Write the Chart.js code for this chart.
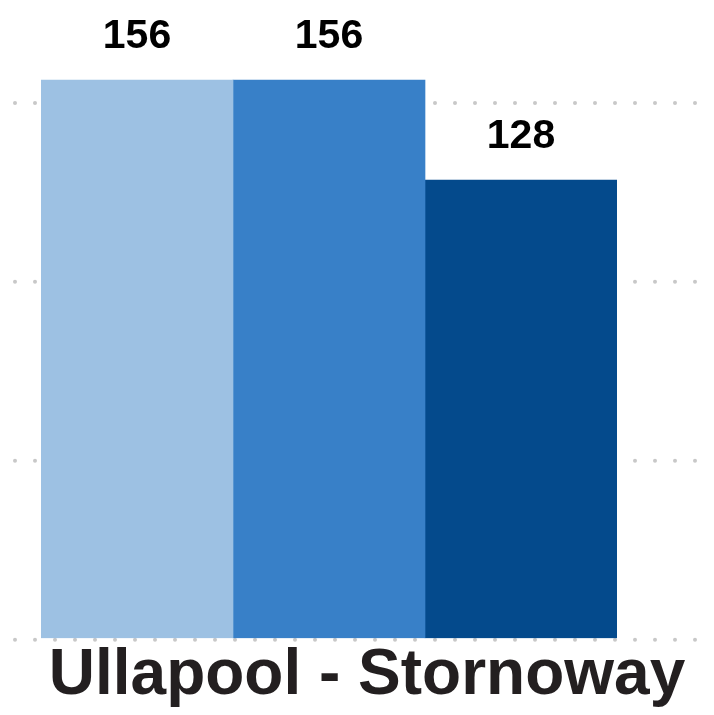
<!DOCTYPE html>
<html>
<head>
<meta charset="utf-8">
<script src="https://cdn.jsdelivr.net/npm/chart.js@4/dist/chart.umd.min.js"></script>
<style>
    html, body { margin: 0; padding: 0; background: #fff; }
    #wrap { width: 714px; height: 715px; }
</style>
</head>
<body>
<div id="wrap"><canvas id="routeChart"></canvas></div>
<script>
// Chart data
const categories = ['Ullapool - Stornoway'];
const seriesNames = ['Series 1', 'Series 2', 'Series 3'];
const seriesValues = [[156], [156], [128]];
const seriesColors = ['#9dc1e3', '#3880c8', '#044a8c'];
const gridValues = [0, 50, 100, 150];

// Dotted horizontal guide lines, placed with the y scale
const dotGrid = {
    id: 'dotGrid',
    beforeDatasetsDraw(chart) {
        const ctx = chart.ctx;
        const yScale = chart.scales.y;
        ctx.save();
        ctx.fillStyle = '#c8c8c8';
        gridValues.forEach(v => {
            const y = yScale.getPixelForValue(v) + 1.5;
            for (let x = 15; x <= chart.width; x += 20) {
                ctx.beginPath();
                ctx.arc(x, y, 2, 0, Math.PI * 2);
                ctx.fill();
            }
        });
        ctx.restore();
    }
};

// Value labels above each bar
const valueLabels = {
    id: 'valueLabels',
    afterDatasetsDraw(chart) {
        const ctx = chart.ctx;
        ctx.save();
        ctx.font = 'bold 41px "Liberation Sans", Arial, sans-serif';
        ctx.fillStyle = '#000';
        ctx.textAlign = 'center';
        ctx.textBaseline = 'alphabetic';
        chart.data.datasets.forEach((ds, i) => {
            chart.getDatasetMeta(i).data.forEach((bar, j) => {
                ctx.fillText(String(ds.data[j]), bar.x, bar.y - 32);
            });
        });
        ctx.restore();
    }
};

const ctx = document.getElementById('routeChart').getContext('2d');
new Chart(ctx, {
    type: 'bar',
    data: {
        labels: categories,
        datasets: seriesValues.map((vals, i) => ({
            label: seriesNames[i],
            data: vals,
            backgroundColor: seriesColors[i],
            borderWidth: 0,
            categoryPercentage: 1,
            barPercentage: 1
        }))
    },
    options: {
        responsive: true,
        maintainAspectRatio: false,
        animation: false,
        layout: {
            padding: { left: 41, right: 97, top: 12, bottom: 0 }
        },
        plugins: {
            legend: { display: false },
            tooltip: { enabled: false }
        },
        scales: {
            x: {
                grid: { display: false, drawTicks: false },
                border: { display: false },
                ticks: {
                    color: '#231f20',
                    font: { family: '"Liberation Sans", Arial, sans-serif', size: 64, weight: 'bold', lineHeight: 1.2 },
                    padding: 0,
                    labelOffset: 38,
                    maxRotation: 0,
                    minRotation: 0,
                    autoSkip: false
                },
                afterFit: (scale) => {
                    scale.paddingLeft = 0;
                    scale.paddingRight = 0;
                }
            },
            y: {
                display: false,
                min: 0,
                max: 175
            }
        }
    },
    plugins: [dotGrid, valueLabels]
});
</script>
</body>
</html>
